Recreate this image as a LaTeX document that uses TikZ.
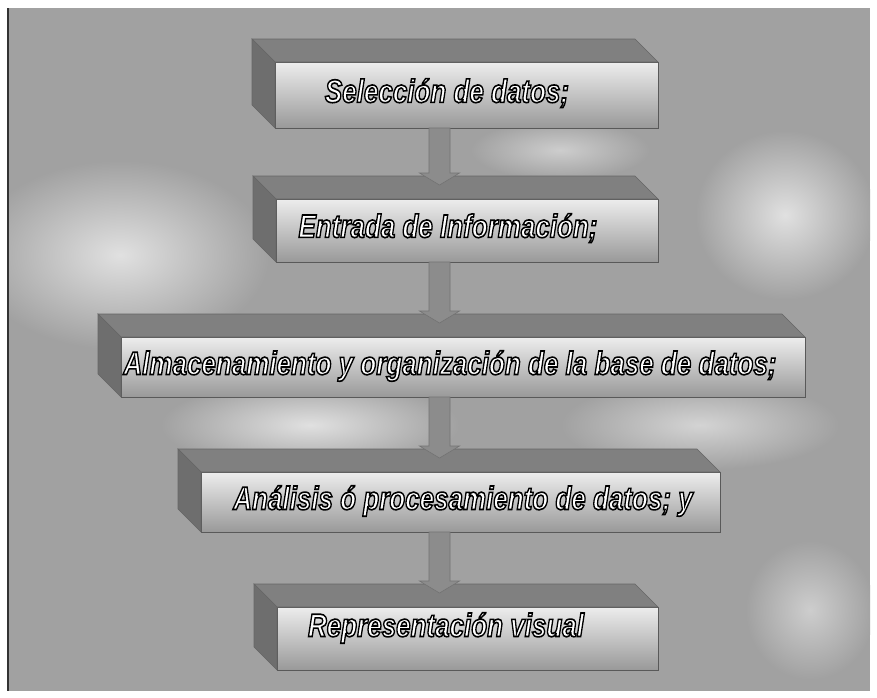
\documentclass[tikz,border=0pt]{standalone}
\usepackage{fontspec}
\setmainfont{Liberation Sans}
\usepackage{graphicx}
\usetikzlibrary{calc}
\definecolor{bggray}{gray}{0.63}
\definecolor{bglight}{gray}{0.88}
\definecolor{topgray}{gray}{0.50}
\definecolor{sidegray}{gray}{0.43}
\definecolor{frontlight}{gray}{0.93}
\definecolor{frontdark}{gray}{0.60}
\definecolor{shaftgray}{gray}{0.55}
\newcommand\owtext[1]{{\color{white}%
 \special{pdf:literal direct 0 G 1.3 w 2 Tr}%
 \scalebox{1}[1.25]{#1}%
 \special{pdf:literal direct 0 Tr}}}
\newcommand\slabbox[5]{%
  \node[frontface, minimum width=#4pt, minimum height=#5pt] (#1) at (#2,#3) {};
  \path[topface] (#1.north west) -- ++(-23,-23) -- ($(#1.north east)+(-23,-23)$) -- (#1.north east) -- cycle;
  \path[sideface] (#1.north west) -- ++(-23,-23) -- ($(#1.south west)+(-23,-23)$) -- (#1.south west) -- cycle;
}
\newcommand\flowarrow[2]{%
  \path[arrowbody] ($(ax |- #1.south)+(-10.5,0)$) -- ($(ax |- #2.north)+(-10.5,-26)$)
    -- ($(ax |- #2.north)+(-20,-26)$) -- ($(ax |- #2.north)+(0,-14)$)
    -- ($(ax |- #2.north)+(20,-26)$) -- ($(ax |- #2.north)+(10.5,-26)$)
    -- ($(ax |- #1.south)+(10.5,0)$) -- cycle;
}
\begin{document}
\begin{tikzpicture}[x=1pt,y=-1pt,
  frontface/.style={draw=black!65, line width=0.7pt, top color=frontlight, bottom color=frontdark, inner sep=0pt, outer sep=0pt, anchor=north west},
  topface/.style={fill=topgray, draw=black!60, line width=0.6pt},
  sideface/.style={fill=sidegray, draw=black!60, line width=0.6pt},
  boxlabel/.style={font=\fontsize{26}{30}\selectfont\bfseries\itshape, inner sep=0pt},
  arrowbody/.style={fill=shaftgray, draw=black!55, line width=0.6pt}]
\useasboundingbox (0,0) rectangle (877,697);
% background
\fill[white] (0,0) rectangle (877,697);
\begin{scope}
\clip (8,8) rectangle (870,691);
\fill[bggray] (8,8) rectangle (870,691);
\shade[inner color=bglight, outer color=bggray] (120,255) ellipse (150 and 95);
\shade[inner color=bglight, outer color=bggray] (310,425) ellipse (150 and 45);
\shade[inner color=bglight, outer color=bggray] (785,215) ellipse (90 and 85);
\shade[inner color=bglight!80!bggray, outer color=bggray] (700,425) ellipse (140 and 45);
\shade[inner color=bglight!70!bggray, outer color=bggray] (810,610) ellipse (65 and 70);
\shade[inner color=bglight!70!bggray, outer color=bggray] (560,150) ellipse (90 and 30);
\end{scope}
\draw[black!80, line width=1.2pt] (8,8) -- (8,691);
\coordinate (ax) at (439.5,0);
% boxes
\slabbox{b1}{275}{62}{383}{66}
\slabbox{b2}{276}{199}{382}{63}
\slabbox{b3}{121}{337}{684}{60}
\slabbox{b4}{201}{472}{519}{60}
\slabbox{b5}{277}{607}{381}{63}
% arrows
\flowarrow{b1}{b2}
\flowarrow{b2}{b3}
\flowarrow{b3}{b4}
\flowarrow{b4}{b5}
% labels
\node[boxlabel] (t1) at (447,93) {\owtext{Selección de datos;}};
\node[boxlabel] (t2) at (448,228) {\owtext{Entrada de Información;}};
\node[boxlabel] (t3) at (450,366) {\owtext{Almacenamiento y organización de la base de datos;}};
\node[boxlabel] (t4) at (463,501) {\owtext{Análisis ó procesamiento de datos; y}};
\node[boxlabel] (t5) at (446,628) {\owtext{Representación visual}};
\end{tikzpicture}
\end{document}
